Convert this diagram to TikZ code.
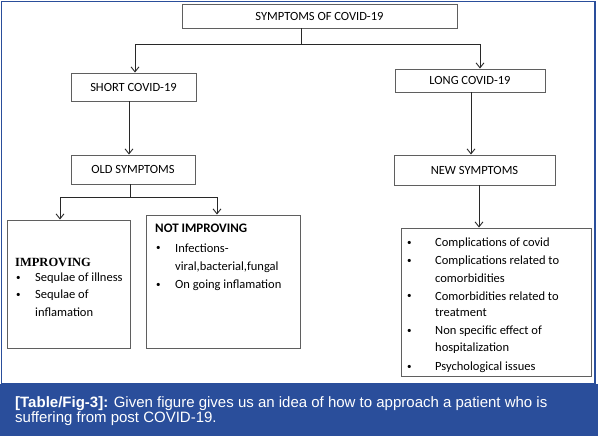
\documentclass[tikz,border=0pt]{standalone}
\usepackage{fontspec}
\setmainfont{Carlito}
\newfontfamily\capfont{Liberation Sans}
\newfontfamily\serifbf{Liberation Serif}
\usetikzlibrary{arrows.meta}
\definecolor{bandblue}{RGB}{42,78,155}
\definecolor{boxgrey}{RGB}{95,95,95}
\definecolor{linecol}{RGB}{40,40,40}
\begin{document}
\begin{tikzpicture}[x=1pt,y=-1pt,
  box/.style={draw=boxgrey, line width=0.9pt, fill=white, inner sep=0pt,
    font=\fontsize{12.5}{14}\selectfont},
  arr/.style={-{Straight Barb[length=5pt,width=8pt]}, line width=0.9pt, draw=linecol},
  ln/.style={line width=0.9pt, draw=linecol},
  txt/.style={anchor=west, inner sep=0pt, font=\fontsize{12.5}{14}\selectfont},
  bul/.style={anchor=west, inner sep=0pt, font=\fontsize{9}{10}\selectfont},
  captxt/.style={anchor=north west, inner sep=0pt, text=white, align=left,
    font=\capfont\fontsize{15}{15.5}\selectfont}
]
\useasboundingbox (0,0) rectangle (598,436);
\fill[white] (0,0) rectangle (598,436);
\fill[bandblue] (0,384) rectangle (598,436);
\draw[bandblue, line width=1.5pt] (1.5,1.5) rectangle (595,384);

% boxes
\node[box, minimum width=275pt, minimum height=24pt] (top) at (319.5,16) {SYMPTOMS OF COVID-19};
\node[box, minimum width=125pt, minimum height=28pt] (short) at (133.5,87) {SHORT COVID-19};
\node[box, minimum width=150pt, minimum height=23pt] (long) at (470,80.5) {LONG COVID-19};
\node[box, minimum width=124pt, minimum height=29pt] (old) at (133,169.5) {OLD SYMPTOMS};
\node[box, minimum width=161pt, minimum height=30pt] (new) at (474.5,170) {NEW SYMPTOMS};
\node[box, minimum width=123pt, minimum height=128pt] (imp) at (68.5,284) {};
\node[box, minimum width=154pt, minimum height=133pt] (notimp) at (223,281.5) {};
\node[box, minimum width=190pt, minimum height=148pt] (list) at (496,302) {};

% connectors
\coordinate (j1) at (301,44);
\draw[ln] ([xshift=-18.5pt]top.south) -- (j1);
\draw[arr] (j1) -| ([xshift=1.5pt]short.north);
\draw[arr] (j1) -| ([xshift=10pt]long.north);
\draw[arr] ([xshift=-4.5pt]short.south) -- ([xshift=-4.5pt]short.south |- old.north);
\coordinate (j2) at (130,197);
\draw[ln] ([xshift=-3pt]old.south) -- (j2);
\draw[arr] (j2) -| ([xshift=-8.5pt]imp.north);
\draw[arr] (j2) -| ([xshift=-6pt]notimp.north);
\draw[arr] ([xshift=1pt]long.south) -- ([xshift=1pt]long.south |- new.north);
\draw[arr] ([xshift=4.5pt]new.south) -- ([xshift=4.5pt]new.south |- list.north);

% IMPROVING
\node[txt, font=\serifbf\bfseries\fontsize{12.5}{14}\selectfont] (t1) at (15,262) {IMPROVING};
\node[bul] (b1) at (16,278) {•};
\node[txt] (t2) at (35,278) {Sequlae of illness};
\node[bul] (b2) at (16,295.5) {•};
\node[txt] (t3) at (35,295.5) {Sequlae of};
\node[txt] (t4) at (35,312.5) {inflamation};

% NOT IMPROVING
\node[txt, font=\bfseries\fontsize{13}{14}\selectfont] (n1) at (155,228) {NOT IMPROVING};
\node[bul] (nb1) at (156,248) {•};
\node[txt] (n2) at (175,248) {Infections-};
\node[txt] (n3) at (175,267) {viral,bacterial,fungal};
\node[bul] (nb2) at (156,285) {•};
\node[txt] (n4) at (175,285) {On going inflamation};

% NEW SYMPTOMS list
\node[bul] (lb1) at (407,243) {•};
\node[txt] (l1) at (435,243) {Complications of covid};
\node[bul] (lb2) at (407,261) {•};
\node[txt] (l2) at (435,261) {Complications related to};
\node[txt] (l3) at (435,278) {comorbidities};
\node[bul] (lb3) at (407,296) {•};
\node[txt] (l4) at (435,296) {Comorbidities related to};
\node[txt] (l5) at (435,313) {treatment};
\node[bul] (lb4) at (407,331) {•};
\node[txt] (l6) at (435,331) {Non specific effect of};
\node[txt] (l7) at (435,348) {hospitalization};
\node[bul] (lb5) at (407,367) {•};
\node[txt] (l8) at (435,367) {Psychological issues};

% caption
\node[captxt] (cap) at (15,396) {\textbf{[Table/Fig-3]:} Given figure gives us an idea of how to approach a patient who is\\suffering from post COVID-19.};
\end{tikzpicture}
\end{document}
